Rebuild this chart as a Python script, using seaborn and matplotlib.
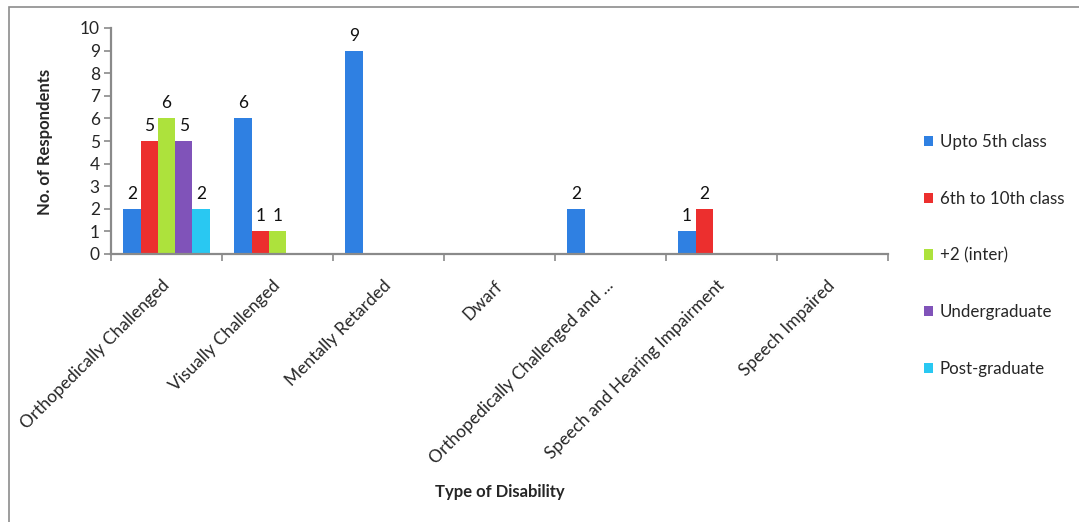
import matplotlib
matplotlib.use("Agg")
import matplotlib.pyplot as plt
import seaborn as sns
import pandas as pd
from matplotlib.patches import Rectangle

# Respondent counts by type of disability and level of education
categories = [
    "Orthopedically Challenged",
    "Visually Challenged",
    "Mentally Retarded",
    "Dwarf",
    "Orthopedically Challenged and ...",
    "Speech and Hearing Impairment",
    "Speech Impaired",
]
levels = ["Upto 5th class", "6th to 10th class", "+2 (inter)", "Undergraduate", "Post-graduate"]
upto_5th = [2, 6, 9, 0, 2, 1, 0]
sixth_to_10th = [5, 1, 0, 0, 0, 2, 0]
plus_two = [6, 1, 0, 0, 0, 0, 0]
undergraduate = [5, 0, 0, 0, 0, 0, 0]
post_graduate = [2, 0, 0, 0, 0, 0, 0]
colors = ["#2F80E2", "#EC2F2E", "#ADE23C", "#8053B9", "#29C8F2"]

series = [upto_5th, sixth_to_10th, plus_two, undergraduate, post_graduate]
df = pd.DataFrame(
    [(c, lvl, v) for lvl, vals in zip(levels, series) for c, v in zip(categories, vals)],
    columns=["Type of Disability", "Level", "Respondents"],
)

sns.set_theme(style="white")
plt.rcParams["font.family"] = ["Lato", "DejaVu Sans"]

FS = 12.5
W, H = 1079, 522
fig = plt.figure(figsize=(W / 100, H / 100), dpi=100)
ax = fig.add_axes([111 / W, 1 - 254 / H, (888 - 111) / W, (254 - 28) / H])

sns.barplot(
    data=df, x="Type of Disability", y="Respondents", hue="Level",
    hue_order=levels, order=categories, palette=colors,
    width=0.78, saturation=1, ax=ax, linewidth=0,
)

# value labels above non-zero bars
for cont in ax.containers:
    labels = [f"{int(b.get_height())}" if b.get_height() > 0 else "" for b in cont]
    ax.bar_label(cont, labels=labels, padding=5, fontsize=FS, color="#111111")

ax.set_xlim(-0.5, len(categories) - 0.5)
ax.set_ylim(0, 10)
ax.set_yticks(range(0, 11))
ax.tick_params(axis="y", which="major", length=5, width=1.2, color="#8a8a8a",
               labelsize=FS, pad=3, left=True)

# tick marks between categories, labels at category centres
ax.set_xticks([i - 0.5 for i in range(len(categories) + 1)])
ax.set_xticklabels([])
ax.tick_params(axis="x", which="major", length=5, width=1.2, color="#8a8a8a", bottom=True)
ax.set_xticks(range(len(categories)), minor=True)
ax.set_xticklabels(categories, minor=True, rotation=45, ha="right", va="center",
                   rotation_mode="anchor", fontsize=FS)
ax.tick_params(axis="x", which="minor", length=0, pad=21)

for s in ["top", "right"]:
    ax.spines[s].set_visible(False)
for s in ["left", "bottom"]:
    ax.spines[s].set_color("#8a8a8a")
    ax.spines[s].set_linewidth(1.6)

ax.set_xlabel("")
ax.set_ylabel("")
fig.text(45 / W, 1 - 142 / H, "No. of Respondents", rotation=90, ha="center", va="center",
         fontsize=12, fontweight="bold")
fig.text(500 / W, 1 - 492 / H, "Type of Disability", ha="center", va="center",
         fontsize=12, fontweight="bold")

handles, labs = ax.get_legend_handles_labels()
ax.get_legend().remove()
fig.legend(handles, labs, loc="center left", bbox_to_anchor=(917 / W, 1 - 255.5 / H),
           frameon=False, fontsize=12.2, handlelength=0.55, handleheight=0.55,
           handletextpad=0.4, labelspacing=2.4, borderaxespad=0)

# chart area border
fig.add_artist(Rectangle((9 / W, -0.1), 1.2, 1 - 7 / H + 0.1, transform=fig.transFigure,
                         fill=False, edgecolor="#8c8c8c", linewidth=1.2))

fig.savefig("out.png", dpi=100)
